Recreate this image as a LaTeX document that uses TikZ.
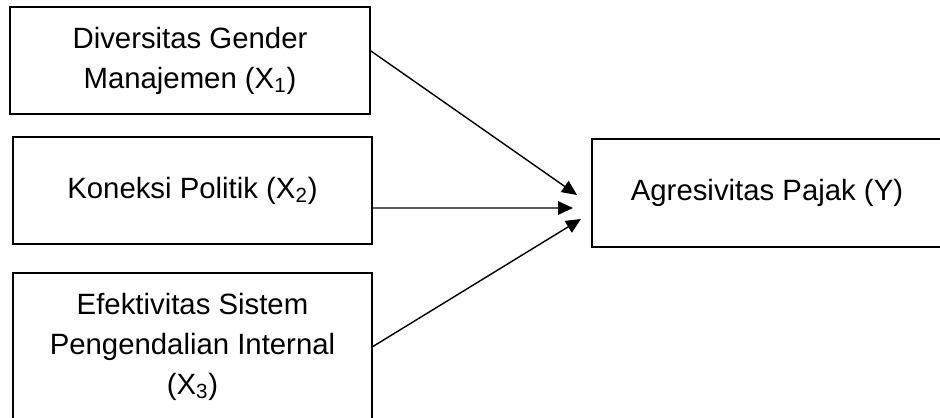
\documentclass[tikz,border=0pt]{standalone}
\usepackage{fontspec}
\setmainfont{Liberation Sans}
\usetikzlibrary{arrows.meta, positioning}
\tikzstyle{variabel} = [rectangle, draw=black, line width=1.1pt, align=center, inner sep=0pt, font=\fontsize{16.7}{22.8}\selectfont]
\tikzstyle{arrow} = [line width=0.8pt, -{Triangle[length=0.3cm, width=0.27cm]}]

\begin{document}
\begin{tikzpicture}[x=0.02cm, y=-0.02cm]

    % Batas gambar
    \useasboundingbox (0,0) rectangle (940,418);
    \clip (0,0) rectangle (940,418);

    % Variabel independen
    \node (x1) [variabel, minimum width=7.2cm, minimum height=2.14cm] at (190,60.5) {Diversitas Gender\\Manajemen (X\textsubscript{1})};
    \node (x2) [variabel, minimum width=7.18cm, minimum height=2.14cm] at (192.5,190.5) {Koneksi Politik (X\textsubscript{2})};
    \node (x3) [variabel, minimum width=7.18cm, minimum height=2.94cm] at (192.5,346.5) {Efektivitas Sistem\\Pengendalian Internal\\(X\textsubscript{3})};

    % Variabel dependen
    \node (y) [variabel, minimum width=7.0cm, minimum height=2.16cm] at (767,193) {Agresivitas Pajak (Y)};

    % Ujung panah
    \coordinate (t1) at (577,195);
    \coordinate (t2) at (573,208);
    \coordinate (t3) at (581,219);

    % Panah
    \draw [arrow] ([yshift=0.19cm]x1.east) -- (t1);
    \draw [arrow] ([yshift=-0.35cm]x2.east) -- (t2);
    \draw [arrow] (x3.east) -- (t3);

\end{tikzpicture}
\end{document}
